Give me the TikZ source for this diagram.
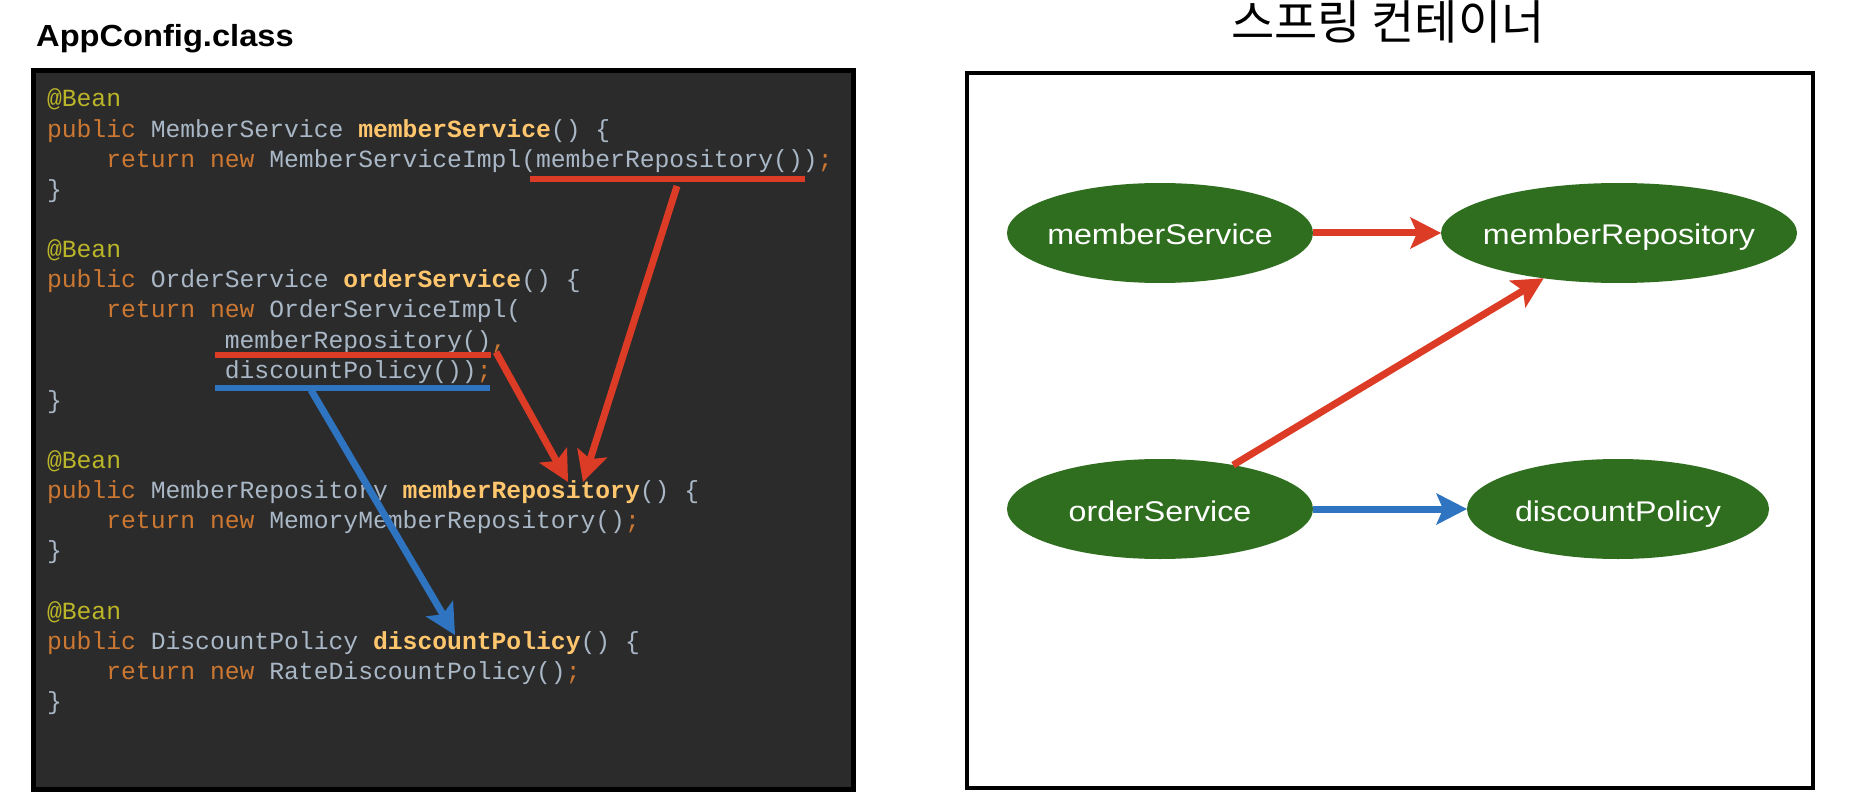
\documentclass[tikz,border=0pt]{standalone}
\usepackage{fontspec}
\setmainfont{Liberation Sans}
\setmonofont{Liberation Mono}
\newfontfamily\kofont{Noto Sans CJK KR}
\newfontfamily\ellfont[FakeStretch=1.13]{Liberation Sans}
\newfontfamily\appfont[FakeStretch=1.07]{Liberation Sans Bold}
\usetikzlibrary{arrows.meta,shapes.geometric}
\definecolor{codebg}{HTML}{2B2B2B}
\definecolor{annot}{HTML}{BBB529}
\definecolor{kw}{HTML}{CC7832}
\definecolor{plain}{HTML}{A9B7C6}
\definecolor{meth}{HTML}{FFC66D}
\definecolor{arrred}{HTML}{DC3B26}
\definecolor{arrblue}{HTML}{2F74C0}
\definecolor{beangreen}{HTML}{2F6E1E}
\newcommand\cAn[1]{\textcolor{annot}{#1}}
\newcommand\cKw[1]{\textcolor{kw}{#1}}
\newcommand\cMe[1]{\textcolor{meth}{\bfseries #1}}
\newcommand\beantext[1]{\raisebox{-12pt}[0pt][0pt]{\makebox[0pt]{#1}}}
\tikzset{
  codeline/.style={anchor=base west, inner sep=0, outer sep=0, text=plain,
    font=\fontsize{24.7pt}{30pt}\selectfont\ttfamily},
  underl/.style={line width=5.5pt},
  fatarrow/.style={line width=7pt, -{Stealth[length=31pt,width=32pt,inset=7pt,line width=0pt]}},
  bean/.style={ellipse, fill=beangreen, draw=none, inner sep=0, outer sep=0, text=white,
    minimum height=100pt, font=\ellfont\fontsize{28.5pt}{30pt}\selectfont},
}
\begin{document}
\begin{tikzpicture}[x=1pt,y=-1pt]
\useasboundingbox (0,0) rectangle (1852,802);
\fill[white] (0,0) rectangle (1852,802);
% left title
\node[anchor=base west, inner sep=0] (apptitle) at (36,47)
  {\appfont\fontsize{30.5pt}{32pt}\selectfont AppConfig.class};
% code box
\draw[line width=5pt, fill=codebg] (33.5,70.5) rectangle (853.5,789.5);
\node[codeline] (l0)  at (47,107)    {\cAn{@Bean}};
\node[codeline] (l1)  at (47,137.1)  {\cKw{public} MemberService \cMe{memberService}() \{};
\node[codeline] (l2)  at (106.3,167.2) {\cKw{return new} MemberServiceImpl(memberRepository())\cKw{;}};
\node[codeline] (l3)  at (47,197.4)  {\}};
\node[codeline] (l5)  at (47,257.6)  {\cAn{@Bean}};
\node[codeline] (l6)  at (47,287.7)  {\cKw{public} OrderService \cMe{orderService}() \{};
\node[codeline] (l7)  at (106.3,317.8) {\cKw{return new} OrderServiceImpl(};
\node[codeline] (l8)  at (224.8,348) {memberRepository()\cKw{,}};
\node[codeline] (l9)  at (224.8,378.1) {discountPolicy())\cKw{;}};
\node[codeline] (l10) at (47,408.2)  {\}};
\node[codeline] (l12) at (47,468.4)  {\cAn{@Bean}};
\node[codeline] (l13) at (47,498.6)  {\cKw{public} MemberRepository \cMe{memberRepository}() \{};
\node[codeline] (l14) at (106.3,528.7) {\cKw{return new} MemoryMemberRepository()\cKw{;}};
\node[codeline] (l15) at (47,558.8)  {\}};
\node[codeline] (l17) at (47,619)    {\cAn{@Bean}};
\node[codeline] (l18) at (47,649.2)  {\cKw{public} DiscountPolicy \cMe{discountPolicy}() \{};
\node[codeline] (l19) at (106.3,679.3) {\cKw{return new} RateDiscountPolicy()\cKw{;}};
\node[codeline] (l20) at (47,709.4)  {\}};
% underline marks
\coordinate (u1a) at (530,179);
\coordinate (u1b) at (805,179);
\coordinate (u2a) at (215,355);
\coordinate (u2b) at (491,355);
\coordinate (u3a) at (215,388);
\coordinate (u3b) at (490,388);
\draw[underl, arrred] (u1a) -- (u1b);
\draw[underl, arrred] (u2a) -- (u2b);
\draw[underl, arrblue] (u3a) -- (u3b);
% code arrows
\coordinate (a1s) at (677,186);
\coordinate (a1t) at (583,482);
\coordinate (a2s) at (496,352);
\coordinate (a2t) at (568,482);
\coordinate (a3s) at (311,390);
\coordinate (a3t) at (455,635);
\draw[fatarrow, arrred] (a1s) -- (a1t);
\draw[fatarrow, arrred] (a2s) -- (a2t);
\draw[fatarrow, arrblue] (a3s) -- (a3t);
% right title
\node[anchor=base, inner sep=0] (ctitle) at (1388,40)
  {\kofont\fontsize{47pt}{50pt}\selectfont 스프링 컨테이너};
% container
\draw[line width=4pt] (967,73) rectangle (1813,788);
\node[bean, minimum width=306pt] (ms) at (1160,233) {\beantext{memberService}};
\node[bean, minimum width=356pt] (mr) at (1619,233) {\beantext{memberRepository}};
\node[bean, minimum width=306pt] (os) at (1160,509) {\beantext{orderService}};
\node[bean, minimum width=302pt] (dp) at (1618,509) {\beantext{discountPolicy}};
\draw[fatarrow, arrred] (ms.east) -- (mr.west);
\draw[fatarrow, arrred] (os.31) -- (mr.211);
\draw[fatarrow, arrblue] (os.east) -- (dp.west);
\end{tikzpicture}
\end{document}
